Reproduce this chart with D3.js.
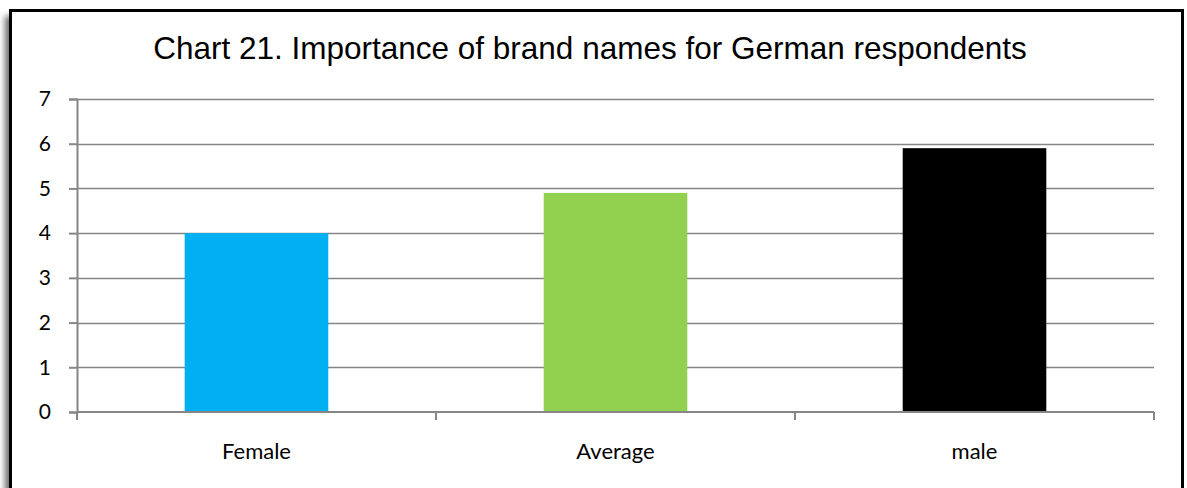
<!DOCTYPE html>
<html>
<head>
<meta charset="utf-8">
<script src="https://cdn.jsdelivr.net/npm/d3@7"></script>
<style>
  html, body { margin: 0; padding: 0; background: #fff; }
  svg { display: block; }
</style>
</head>
<body>
<svg id="chart" width="1187" height="488"></svg>
<script>
// Data
const categories = ["Female", "Average", "male"];
const values = [4.0, 4.9, 5.9];
const barColors = ["#00b0f0", "#92d050", "#000000"];
const yTicks = [0, 1, 2, 3, 4, 5, 6, 7];
const titleText = "Chart 21. Importance of brand names for German respondents";

const W = 1187, H = 488;
const svg = d3.select("#chart");

// Frame with soft shadow
const defs = svg.append("defs");
const f = defs.append("filter").attr("id", "shadow")
  .attr("x", "-5%").attr("y", "-5%").attr("width", "110%").attr("height", "110%");
f.append("feGaussianBlur").attr("stdDeviation", 3);

svg.append("rect")
  .attr("x", 5).attr("y", 16).attr("width", 1172).attr("height", 500)
  .attr("fill", "#6a6a6a").attr("filter", "url(#shadow)");
svg.append("rect")
  .attr("x", 10.5).attr("y", 10.5).attr("width", 1172).attr("height", 500)
  .attr("fill", "#fff").attr("stroke", "#000").attr("stroke-width", 3);

// Plot area
const margin = { left: 77, right: 1154, top: 99, bottom: 412 };

const x = d3.scaleBand()
  .domain(categories)
  .range([margin.left, margin.right])
  .paddingInner(0.6).paddingOuter(0.3);

const xOuter = d3.scaleBand()
  .domain(categories)
  .range([margin.left, margin.right]);

const y = d3.scaleLinear()
  .domain([0, 7])
  .range([margin.bottom, margin.top]);

// Title
svg.append("text")
  .attr("x", 590).attr("y", 59)
  .attr("text-anchor", "middle")
  .attr("font-family", "'Liberation Sans', Arial, sans-serif")
  .attr("font-size", 31.5)
  .attr("fill", "#000")
  .text(titleText);

// Horizontal gridlines
svg.append("g").selectAll("line")
  .data(yTicks.filter(d => d > 0))
  .join("line")
  .attr("x1", margin.left).attr("x2", margin.right)
  .attr("y1", d => Math.round(y(d)) + 0.5).attr("y2", d => Math.round(y(d)) + 0.5)
  .attr("stroke", "#868686").attr("stroke-width", 1.5);

// Bars
svg.append("g").selectAll("rect")
  .data(categories)
  .join("rect")
  .attr("x", d => x(d))
  .attr("width", x.bandwidth())
  .attr("y", (d, i) => y(values[i]))
  .attr("height", (d, i) => y(0) - y(values[i]))
  .attr("fill", (d, i) => barColors[i]);

// Y axis
const yAxis = d3.axisLeft(y).tickValues(yTicks).tickSize(8).tickPadding(18)
  .tickFormat(d3.format("d"));
const gy = svg.append("g").attr("transform", `translate(${margin.left},0)`).call(yAxis);
gy.select(".domain").attr("stroke", "#868686").attr("stroke-width", 2);
gy.selectAll(".tick line").attr("stroke", "#868686").attr("stroke-width", 2);
gy.selectAll(".tick text")
  .attr("font-family", "Lato, 'Open Sans', sans-serif")
  .attr("font-size", 21).attr("fill", "#000");

// X axis: tick marks at category boundaries
const boundaries = categories.map(c => xOuter(c)).concat([margin.right]);
const gx = svg.append("g");
gx.append("line")
  .attr("x1", margin.left).attr("x2", margin.right)
  .attr("y1", y(0)).attr("y2", y(0))
  .attr("stroke", "#868686").attr("stroke-width", 2);
gx.selectAll("line.tick")
  .data(boundaries)
  .join("line").attr("class", "tick")
  .attr("x1", d => d).attr("x2", d => d)
  .attr("y1", y(0)).attr("y2", y(0) + 8)
  .attr("stroke", "#868686").attr("stroke-width", 2);
gx.selectAll("text")
  .data(categories)
  .join("text")
  .attr("x", d => xOuter(d) + xOuter.bandwidth() / 2)
  .attr("y", 459)
  .attr("text-anchor", "middle")
  .attr("font-family", "Lato, 'Open Sans', sans-serif")
  .attr("font-size", 22).attr("fill", "#000")
  .text(d => d);
</script>
</body>
</html>
